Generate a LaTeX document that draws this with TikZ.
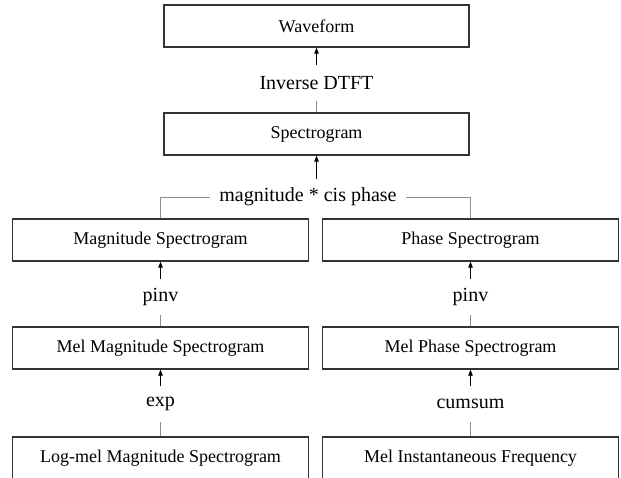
\documentclass[tikz,border=0pt]{standalone}
\usepackage{fontspec}
\setmainfont{Liberation Serif}
\usetikzlibrary{arrows.meta}

\begin{document}
\begin{tikzpicture}[x=1pt, y=-1pt,
        box/.style={draw=black!80, line width=1.4pt, minimum height=42pt, inner sep=0pt, font=\fontsize{18}{20}\selectfont},
        op/.style={minimum height=36pt, inner xsep=9pt, inner ysep=0pt, font=\fontsize{20}{22}\selectfont},
        link/.style={draw=black!45, line width=0.9pt},
        >={Triangle[length=6pt, width=4.5pt]}]
        \useasboundingbox (0, 0) rectangle (621, 478);
        \node [box, minimum width=305pt] (W) at (316.5, 26) {Waveform};
        \node [op] (ID) at (316.5, 83) {Inverse DTFT};
        \node [box, minimum width=305pt] (S) at (316.5, 134) {Spectrogram};
        \node [op] (CP) at (308, 197) {magnitude * cis phase};
        \node [box, minimum width=296pt] (M) at (160.5, 240) {Magnitude Spectrogram};
        \node [box, minimum width=296pt] (P) at (470.5, 240) {Phase Spectrogram};
        \node [op] (PL) at (160.5, 297) {pinv};
        \node [op] (PR) at (470.5, 297) {pinv};
        \node [box, minimum width=296pt] (MM) at (160.5, 348) {Mel Magnitude Spectrogram};
        \node [box, minimum width=296pt] (MP) at (470.5, 348) {Mel Phase Spectrogram};
        \node [op] (EX) at (160.5, 404) {exp};
        \node [op] (CS) at (470.5, 404) {cumsum};
        \node [box, minimum width=296pt] (LM) at (160.5, 458) {Log-mel Magnitude Spectrogram};
        \node [box, minimum width=296pt] (IF) at (470.5, 458) {Mel Instantaneous Frequency};
        \draw [->, line width=0.9pt] (ID) -- (W);
        \draw [link] (S) -- (ID);
        \draw [->, line width=0.9pt] (S |- CP.north) -- (S);
        \draw [link] (M) |- (CP);
        \draw [link] (P) |- (CP);
        \draw [->, line width=0.9pt] (PL) -- (M);
        \draw [->, line width=0.9pt] (PR) -- (P);
        \draw [link] (MM) -- (PL);
        \draw [link] (MP) -- (PR);
        \draw [->, line width=0.9pt] (EX) -- (MM);
        \draw [->, line width=0.9pt] (CS) -- (MP);
        \draw [link] (LM) -- (EX);
        \draw [link] (IF) -- (CS);
\end{tikzpicture}
\end{document}
